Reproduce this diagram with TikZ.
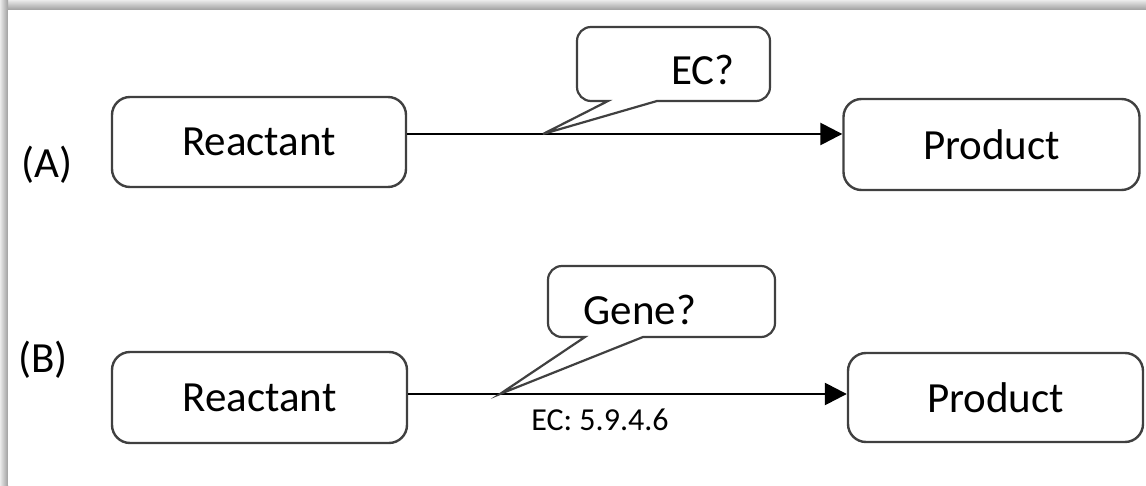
\documentclass[tikz,border=0pt]{standalone}
\usepackage{fontspec}
\setmainfont{Carlito}
\usetikzlibrary{arrows.meta}
\begin{document}
\begin{tikzpicture}[x=1pt,y=1pt,
  box/.style={draw=black!75,line width=2.4pt,rounded corners=18pt,fill=white,inner sep=0pt,font=\fontsize{43}{48}\selectfont},
  callout/.style={draw=black!75,line width=2.2pt,fill=white,line join=miter},
  lbl/.style={inner sep=0pt,font=\fontsize{43}{48}\selectfont},
  small/.style={inner sep=0pt,font=\fontsize{32}{36}\selectfont},
  conn/.style={line width=2.6pt,-{Triangle[length=22pt,width=22pt]}}]
\useasboundingbox (0,0) rectangle (1146,485);
% frame shadow
\fill[white] (0,0) rectangle (1146,485);
\shade[top color=black!8,bottom color=black!38] (0,475) rectangle (1146,485);
\shade[left color=black!8,right color=black!38] (0,0) rectangle (8,485);
\fill[white] (8,0) rectangle (1146,475);
% nodes A
\node[box,minimum width=294pt,minimum height=90pt] (rA) at (259,343) {Reactant};
\node[box,minimum width=296pt,minimum height=91pt] (pA) at (991.5,340.5) {Product};
\node[lbl] (labA) at (47,320) {(A)};
% nodes B
\node[box,minimum width=295pt,minimum height=91pt] (rB) at (259.5,87.5) {Reactant};
\node[box,minimum width=295pt,minimum height=89pt] (pB) at (995.5,87.5) {Product};
\node[lbl] (labB) at (43,125) {(B)};
% arrows
\coordinate (yA) at (0,351);
\coordinate (yB) at (0,91);
\draw[conn] (rA.east |- yA) -- (pA.west |- yA);
\draw[conn] (rB.east |- yB) -- (pB.west |- yB);
\coordinate (tA) at (543,351);
\coordinate (tB) at (500,91);
% callout A
\draw[callout] (591,458) -- (756,458) arc[start angle=90,end angle=0,radius=14] -- (770,398)
  arc[start angle=0,end angle=-90,radius=14] -- (657,384) -- (tA) -- (608,384) -- (591,384)
  arc[start angle=270,end angle=180,radius=14] -- (577,444) arc[start angle=180,end angle=90,radius=14] -- cycle;
\node[lbl] (ecq) at (703,415) {EC?};
% callout B
\draw[callout] (562,219) -- (761,219) arc[start angle=90,end angle=0,radius=14] -- (775,162)
  arc[start angle=0,end angle=-90,radius=14] -- (643,148) -- (tB) -- (585,148) -- (562,148)
  arc[start angle=270,end angle=180,radius=14] -- (548,205) arc[start angle=180,end angle=90,radius=14] -- cycle;
\node[lbl] (geneq) at (640,175) {Gene?};
\node[small] (ec) at (600,65) {EC: 5.9.4.6};
\end{tikzpicture}
\end{document}
